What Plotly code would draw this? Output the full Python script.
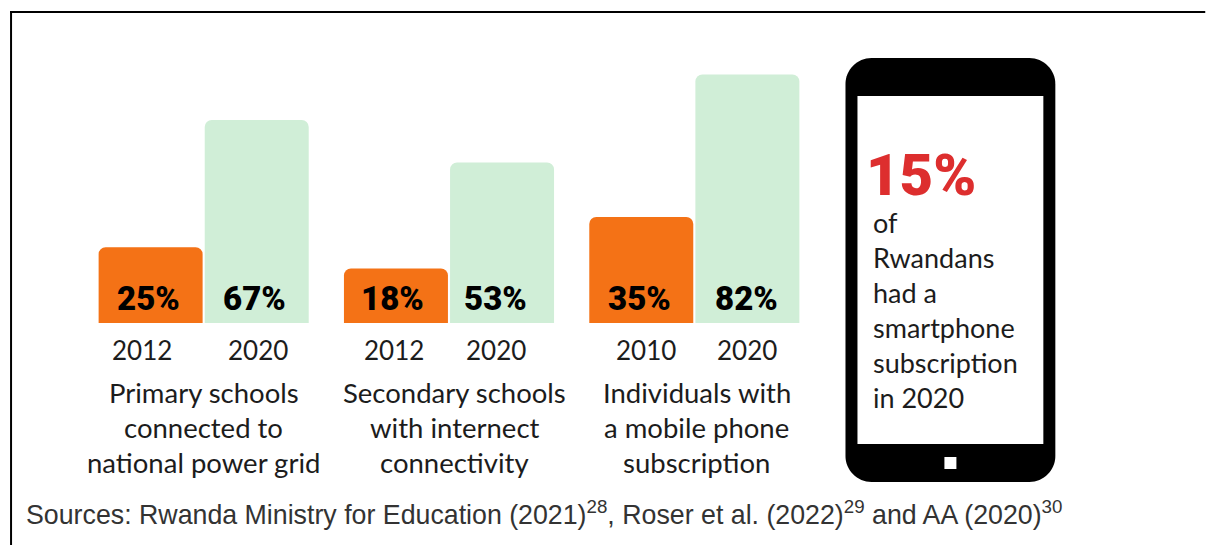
import plotly.graph_objects as go

groups = ["Primary schools", "Secondary schools", "Individuals"]
first_values = [25, 18, 35]
second_values = [67, 53, 82]
first_years = ["2012", "2012", "2010"]
second_years = ["2020", "2020", "2020"]
group_labels = [
    ["Primary schools", "connected to", "national power grid"],
    ["Secondary schools", "with internect", "connectivity"],
    ["Individuals with", "a mobile phone", "subscription"],
]
phone_big = "15%"
phone_lines = ["of", "Rwandans", "had a", "smartphone", "subscription", "in 2020"]
source_text = ("Sources: Rwanda Ministry for Education (2021)<sup>28</sup>, "
               "Roser et al. (2022)<sup>29</sup> and AA (2020)<sup>30</sup>")

W, H = 1206, 545
L, R, T, B = 81, 817.5, 20, 323
ORANGE, GREEN = "#F47216", "#D0EED7"
BODY = "Lato, sans-serif"
HEAVY = "Roboto, sans-serif"
INK = "#1c1c1c"

def px(x):
    return (x - L) / (R - L)

def py(y):
    return (B - y) / (B - T)

def note(text, x, y, size, anchor="center", family=BODY, color=INK, weight=None):
    return dict(text=text, xref="paper", yref="paper", x=px(x), y=py(y),
                xanchor=anchor, yanchor="middle", showarrow=False,
                font=dict(family=family, size=size, color=color, weight=weight))

def rrect(x0, y0, x1, y1, r):
    k = r * 0.45
    pts = [
        f"M {px(x0+r)} {py(y0)}", f"L {px(x1-r)} {py(y0)}",
        f"C {px(x1-k)} {py(y0)} {px(x1)} {py(y0+k)} {px(x1)} {py(y0+r)}",
        f"L {px(x1)} {py(y1-r)}",
        f"C {px(x1)} {py(y1-k)} {px(x1-k)} {py(y1)} {px(x1-r)} {py(y1)}",
        f"L {px(x0+r)} {py(y1)}",
        f"C {px(x0+k)} {py(y1)} {px(x0)} {py(y1-k)} {px(x0)} {py(y1-r)}",
        f"L {px(x0)} {py(y0+r)}",
        f"C {px(x0)} {py(y0+k)} {px(x0+k)} {py(y0)} {px(x0+r)} {py(y0)}", "Z",
    ]
    return " ".join(pts)

def box(x0, y0, x1, y1, color):
    return dict(type="rect", xref="paper", yref="paper", x0=px(x0), x1=px(x1),
                y0=py(y0), y1=py(y1), fillcolor=color, line_width=0)

fig = go.Figure()
fig.add_bar(x=groups, y=first_values, marker_color=ORANGE, marker_line_width=0, textposition="none")
fig.add_bar(x=groups, y=second_values, marker_color=GREEN, marker_line_width=0, textposition="none")

anns = []
first_val_x = [149, 393, 640]
second_val_x = [255, 496, 747]
first_year_x = [142, 394, 646]
second_year_x = [258, 496, 747]
label_x = [204, 455, 697]
for i in range(3):
    anns.append(note(f"{first_values[i]}%", first_val_x[i], 298, 33, family=HEAVY, color="#000", weight=900))
    anns.append(note(f"{second_values[i]}%", second_val_x[i], 298, 33, family=HEAVY, color="#000", weight=900))
    anns.append(note(first_years[i], first_year_x[i], 350, 26))
    anns.append(note(second_years[i], second_year_x[i], 350, 26))
    for j, line in enumerate(group_labels[i]):
        anns.append(note(line, label_x[i], 392.5 + 35 * j, 27.5))
anns.append(note(phone_big, 865, 175, 58, anchor="left", family=HEAVY, color="#DD2E2E", weight=900))
for j, line in enumerate(phone_lines):
    anns.append(note(line, 871.5, 222 + 35 * j, 27, anchor="left"))
anns.append(note(source_text, 24, 513, 26.75, anchor="left", family="Liberation Sans, Arial, sans-serif", color="#333333"))

shapes = [
    box(10, 11, 1206, 13, "#000"),
    box(10, 11, 12, 545, "#000"),
    dict(type="path", xref="paper", yref="paper", path=rrect(846, 58, 1056, 482, 26),
         fillcolor="#000", line_width=0),
    box(858, 96, 1044, 444, "#fff"),
    box(945, 457, 957, 469, "#fff"),
]

fig.update_layout(
    width=W, height=H, autosize=False, showlegend=False,
    margin=dict(l=L, r=W - R, t=T, b=H - B, pad=0),
    paper_bgcolor="#fff", plot_bgcolor="#fff",
    barmode="group", bargap=0.135, bargroupgap=0.02, barcornerradius=7,
    xaxis=dict(visible=False),
    yaxis=dict(visible=False, range=[0, 100]),
    annotations=anns, shapes=shapes,
)
fig.write_html("out.html", config=dict(displayModeBar=False),
               post_script="document.body.style.margin='0';")
